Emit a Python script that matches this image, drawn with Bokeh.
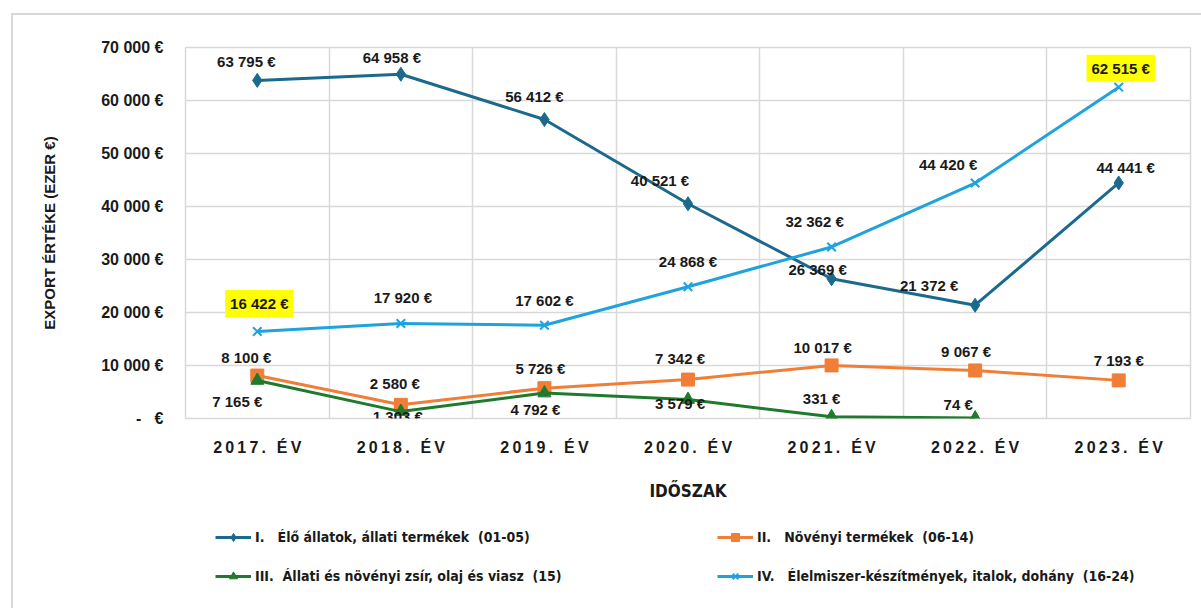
import numpy as np
from bokeh.plotting import figure
from bokeh.layouts import column
from bokeh.models import (ColumnDataSource, FixedTicker, Legend, LegendItem,
                          Range1d, InlineStyleSheet)
from bokeh.core.properties import value
from bokeh.embed import file_html
from bokeh.resources import INLINE

# ---------------- data ----------------
years = ["2017. ÉV", "2018. ÉV", "2019. ÉV", "2020. ÉV", "2021. ÉV", "2022. ÉV", "2023. ÉV"]
series_names = [
    "I.\u00a0\u00a0\u00a0Élő állatok, állati termékek\u00a0\u00a0(01-05)",
    "II.\u00a0\u00a0\u00a0Növényi termékek\u00a0\u00a0(06-14)",
    "III.\u00a0\u00a0Állati és növényi zsír, olaj és viasz\u00a0\u00a0(15)",
    "IV.\u00a0\u00a0\u00a0Élelmiszer-készítmények, italok, dohány\u00a0\u00a0(16-24)",
]
s1_values = [63795, 64958, 56412, 40521, 26369, 21372, 44441]
s2_values = [8100, 2580, 5726, 7342, 10017, 9067, 7193]
s3_values = [7165, 1303, 4792, 3579, 331, 74]
s4_values = [16422, 17920, 17602, 24868, 32362, 44420, 62515]
y_ticks = [0, 10000, 20000, 30000, 40000, 50000, 60000, 70000]
y_tick_labels = ["-\u00a0\u00a0\u00a0€", "10 000 €", "20 000 €", "30 000 €",
                 "40 000 €", "50 000 €", "60 000 €", "70 000 €"]
highlighted = {(3, 0), (3, 6)}  # (series index, point index) with yellow label

# ---------------- styles ----------------
colors = ["#1B6A8E", "#F07E36", "#1F7A2D", "#1EA3DC"]
markers = ["diamond", "square", "triangle", "x"]
marker_sizes = [14, 13, 13, 12]
# label offsets in screen pixels (dx, dy), dy negative = up
label_offsets = [
    [(-11, -19), (-9, -17), (-10, -23), (-28, -23), (-14, -9), (-46, -20), (7, -15)],
    [(-11, -18), (-6, -21), (-4, -20), (-8, -21), (-9, -18), (-9, -19), (0, -20)],
    [(-20, 21), (-3, 5), (-9, 16), (-8, 4), (-10, -18), (-17, -14)],
    [(2, -28), (2, -26), (0, -25), (0, -25), (-17, -25), (-27, -19), (2, -19)],
]
legend_order = [0, 2, 1, 3]  # column-major fill -> rows: I | II, III | IV

BOLD = "'Liberation Sans', Arial, sans-serif"
NARROW = "'Liberation Sans Narrow', 'DejaVu Sans Condensed', 'Liberation Sans', sans-serif"
GRID = "#D9D9D9"


def fmt(v):
    return f"{v:,}".replace(",", " ") + " €"


def spaced(s):
    return "\u2009".join(list(s))


xs = np.arange(len(years)) + 0.5

p = figure(width=1193, height=510, output_backend="svg", toolbar_location=None,
           x_range=Range1d(0, len(years)), y_range=Range1d(0, 70000),
           min_border_left=185, min_border_right=3, min_border_top=47,
           min_border_bottom=92)
p.outline_line_color = GRID
p.outline_line_width = 1.5
p.background_fill_color = "white"
p.border_fill_color = "white"

# grids
p.xgrid.ticker = FixedTicker(ticks=list(range(len(years) + 1)))
p.ygrid.ticker = FixedTicker(ticks=y_ticks)
for g in (p.xgrid, p.ygrid):
    g.grid_line_color = GRID
    g.grid_line_width = 1.5

# axes
p.xaxis.ticker = FixedTicker(ticks=list(xs))
p.xaxis.major_label_overrides = {float(x): spaced(y) for x, y in zip(xs, years)}
p.yaxis.ticker = FixedTicker(ticks=y_ticks)
p.yaxis.major_label_overrides = {t: l for t, l in zip(y_ticks, y_tick_labels)}
for ax in (p.xaxis, p.yaxis):
    ax.axis_line_color = None
    ax.major_tick_line_color = None
    ax.minor_tick_line_color = None
    ax.major_label_text_font = BOLD
    ax.major_label_text_font_style = "bold"
    ax.major_label_text_color = "#1a1a1a"
    ax.axis_label_text_font_style = "bold"
    ax.axis_label_text_color = "#1a1a1a"
p.xaxis.major_label_text_font_size = "16px"
p.xaxis.major_label_standoff = 14
p.xaxis.axis_label = "IDŐSZAK"
p.xaxis.axis_label_text_font = NARROW
p.xaxis.axis_label_text_font_size = "17px"
p.xaxis.axis_label_standoff = 22
p.yaxis.major_label_text_font_size = "16px"
p.yaxis.major_label_standoff = 16
p.yaxis.axis_label = "EXPORT ÉRTÉKE (EZER €)"
p.yaxis.axis_label_text_font = BOLD
p.yaxis.axis_label_text_font_size = "15px"
p.yaxis.axis_label_standoff = 40

# legend holder figure (its frame is aligned with the chart frame)
pl = figure(width=1193, height=90, output_backend="svg", toolbar_location=None,
            x_range=Range1d(1000, 1001), y_range=Range1d(1000, 1001),
            x_axis_location=None, y_axis_location=None,
            min_border_left=0, min_border_right=0, min_border_top=0,
            min_border_bottom=0)
pl.grid.visible = False
pl.outline_line_color = None
pl.background_fill_color = "white"
pl.border_fill_color = "white"

all_values = [s1_values, s2_values, s3_values, s4_values]
legend_items = {}
for i, vals in enumerate(all_values):
    n = len(vals)
    src = ColumnDataSource(dict(
        x=xs[:n], y=vals,
        text=[fmt(v) for v in vals],
        dx=[o[0] for o in label_offsets[i]],
        dy=[o[1] for o in label_offsets[i]],
        bga=[1.0 if (i, j) in highlighted else 0.0 for j in range(n)],
    ))
    p.line("x", "y", source=src, line_color=colors[i], line_width=3)
    p.scatter("x", "y", source=src, marker=markers[i], size=marker_sizes[i],
              fill_color=colors[i], line_color=colors[i],
              line_width=2 if markers[i] == "x" else 1)
    p.text("x", "y", text="text", source=src, x_offset="dx", y_offset="dy",
           text_align="center", text_baseline="middle",
           text_font=value(BOLD), text_font_style="bold", text_font_size="15px",
           text_color="#1a1a1a",
           background_fill_color="#FFFF00", background_fill_alpha="bga",
           padding=5)
    # same series in the legend strip (outside its view), used for legend swatches
    ln2 = pl.line("x", "y", source=src, line_color=colors[i], line_width=3)
    sc2 = pl.scatter("x", "y", source=src, marker=markers[i], size=marker_sizes[i],
                     fill_color=colors[i], line_color=colors[i],
                     line_width=2 if markers[i] == "x" else 1)
    legend_items[i] = LegendItem(label=series_names[i], renderers=[ln2, sc2])

legend = Legend(items=[legend_items[k] for k in legend_order], ncols=2,
                location=(30, 14),
                glyph_width=36, glyph_height=20, label_standoff=4,
                spacing=19, label_width=443, label_height=20,
                padding=0, margin=0, border_line_color=None,
                background_fill_alpha=0,
                label_text_font=NARROW, label_text_font_style="bold",
                label_text_font_size="14px", label_text_color="#1a1a1a")
pl.add_layout(legend, "center")

layout = column(p, pl, spacing=0)
layout.stylesheets = [InlineStyleSheet(css=(
    ":host {position: relative;} "
    ":host::after {content: ''; position: absolute; left: 11px; top: 13px; "
    "width: 3000px; height: 3000px; border: 2px solid #D9D9D9; "
    "pointer-events: none; box-sizing: border-box; z-index: 10;}"
))]

open("out.html", "w").write(file_html(layout, INLINE))
